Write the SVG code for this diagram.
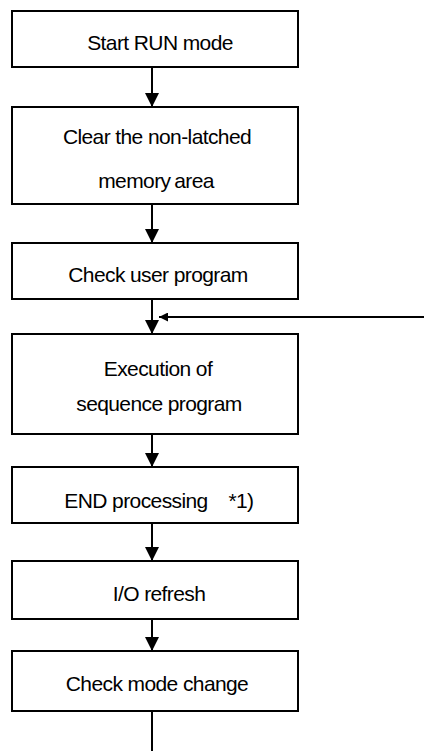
<svg xmlns="http://www.w3.org/2000/svg" width="424" height="751" viewBox="0 0 424 751">
<style>
.box{fill:#fff;stroke:#000;stroke-width:2}
.t{font-family:"Liberation Sans",Arial,sans-serif;font-size:21px;fill:#000;text-anchor:middle;letter-spacing:-0.6px}
.c{stroke:#000;stroke-width:2;fill:none}
</style>
<defs>
<marker id="ah" markerWidth="14" markerHeight="14" viewBox="0 0 14 14" refX="14" refY="7" orient="auto" markerUnits="userSpaceOnUse">
<path d="M0,0 L14,7 L0,14 Z" fill="#000"/>
</marker>
<marker id="ahs" markerWidth="9" markerHeight="9" viewBox="0 0 9 9" refX="9" refY="4.5" orient="auto" markerUnits="userSpaceOnUse">
<path d="M0,0 L9,4.5 L0,9 Z" fill="#000"/>
</marker>
</defs>
<rect width="424" height="751" fill="#fff"/>
<g id="connectors">
<line class="c" x1="152" y1="67" x2="152" y2="107" marker-end="url(#ah)"/>
<line class="c" x1="152" y1="204" x2="152" y2="243" marker-end="url(#ah)"/>
<line class="c" x1="152" y1="299" x2="152" y2="334" marker-end="url(#ah)"/>
<line class="c" x1="152" y1="431" x2="152" y2="467" marker-end="url(#ah)"/>
<line class="c" x1="152" y1="523" x2="152" y2="561" marker-end="url(#ah)"/>
<line class="c" x1="152" y1="619" x2="152" y2="651" marker-end="url(#ah)"/>
<line class="c" x1="152" y1="708" x2="152" y2="751"/>
<line class="c" x1="424" y1="317" x2="159" y2="317" marker-end="url(#ahs)"/>
</g>
<g id="n1"><rect class="box" x="12" y="11" width="286" height="56"/><text class="t" x="160" y="50">Start RUN mode</text></g>
<g id="n2"><rect class="box" x="12" y="107" width="286" height="97"/><text class="t" x="157" y="144">Clear the non-latched</text><text class="t" x="156" y="188" word-spacing="-1.5">memory area</text></g>
<g id="n3"><rect class="box" x="12" y="243" width="286" height="56"/><text class="t" x="158" y="282">Check user program</text></g>
<g id="n4"><rect class="box" x="12" y="334" width="286" height="100"/><text class="t" x="158" y="376">Execution of</text><text class="t" x="159" y="411">sequence program</text></g>
<g id="n5"><rect class="box" x="12" y="467" width="286" height="56"/><text class="t" x="136" y="508">END processing</text><text class="t" x="241" y="508">*1)</text></g>
<g id="n6"><rect class="box" x="12" y="561" width="286" height="58"/><text class="t" x="159" y="601">I/O refresh</text></g>
<g id="n7"><rect class="box" x="12" y="651" width="286" height="60"/><text class="t" x="157" y="691">Check mode change</text></g>
</svg>
